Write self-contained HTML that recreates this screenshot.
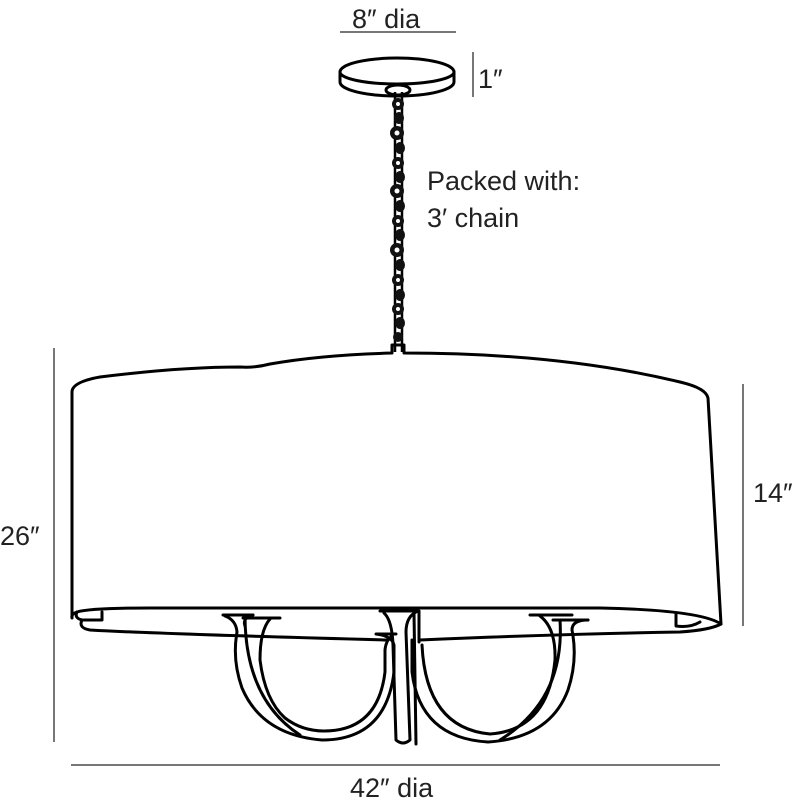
<!DOCTYPE html>
<html><head><meta charset="utf-8"><style>
html,body{margin:0;padding:0;background:#fff;}
svg{display:block;}
text{font-family:"Liberation Sans",sans-serif;fill:#222;font-size:27px;}
</style></head><body>
<svg width="799" height="806" viewBox="0 0 799 806" xmlns="http://www.w3.org/2000/svg">
<g stroke="#777" stroke-width="2" fill="none">
<line x1="340" y1="32" x2="456" y2="32"/>
<line x1="473" y1="52" x2="473" y2="97"/>
<line x1="54" y1="348" x2="54" y2="742"/>
<line x1="743" y1="384" x2="743" y2="626"/>
<line x1="71" y1="765" x2="720" y2="765"/>
</g>
<text x="352" y="28">8″ dia</text>
<text x="478" y="88">1″</text>
<text x="427" y="190">Packed with:</text>
<text x="427" y="227">3′ chain</text>
<text x="753" y="502">14″</text>
<text x="0" y="545">26″</text>
<text x="350" y="797">42″ dia</text>

<g stroke="#000" stroke-width="3" fill="none" stroke-linejoin="round" stroke-linecap="round">
<path d="M340 72 A57 14 0 0 1 454 72 L454 82 A57 14 0 0 1 340 82 Z"/>
<path d="M340 72 A57 12 0 0 0 454 72"/>
<ellipse cx="398" cy="90" rx="12" ry="5"/>
<path d="M72 618 L72 392 Q72 382 100 377 Q180 367 240 367 Q255 368 270 364 Q320 355 392 353 L392 345 L404 345 L404 353 Q560 353 680 382 Q706 388 708 398 L721 624 Q700 610 600 608 L150 608 Q90 608 77 612 Q71 614 72 618"/>
<path d="M77 612 Q74 618 82 620 L102 620 L102 612"/>
<path d="M82 620 Q78 628 90 630 Q160 634 388 640"/>
<path d="M420 640 Q560 634 680 632 Q710 630 721 624"/>
<path d="M676 614 L676 626 Q690 628 700 622"/>
<path d="M223 615 L253 615"/>
<path d="M243 618 L280 618"/>
<path d="M225 616 Q236 620 237 632 Q232 660 242 688 Q262 735 322 740 Q386 740 394 672 L394 645 Q392 636 376 634 L396 634"/>
<path d="M245 618 Q246 700 300 735"/>
<path d="M253 615 Q242 618 245 626"/>
<path d="M270 619 Q260 630 260 660 Q265 700 285 718 Q302 731 324 731 Q378 731 385 672 L385 650 Q386 640 392 636"/>
<path d="M530 615 L572 615"/>
<path d="M553 620 L588 620"/>
<path d="M412 640 L412 672 Q420 738 488 742 Q550 738 568 690 Q578 660 572 630 Q572 620 588 620"/>
<path d="M422 645 Q426 728 490 734 Q548 730 555 660 Q556 628 540 616"/>
<path d="M560 620 Q565 700 500 740"/>
<path d="M380 611 L418 611 Q406 616 406 632 L410 740 Q403 746 396 740 L393 645 Q392 620 384 613"/>
<path d="M414 613 L416 744"/>
<path d="M419 611 L419 642"/>
</g>
<g stroke="#000" stroke-width="2.5" fill="none">
<line x1="395" y1="92" x2="395" y2="352"/>
<line x1="402" y1="92" x2="402" y2="352"/>
</g>
<g fill="#111">
<ellipse cx="398" cy="104" rx="6" ry="6"/><ellipse cx="399" cy="118" rx="5" ry="6"/>
<ellipse cx="397" cy="133" rx="7" ry="7"/><ellipse cx="400" cy="148" rx="5" ry="6"/>
<ellipse cx="398" cy="163" rx="6" ry="6"/><ellipse cx="400" cy="177" rx="5" ry="6"/>
<ellipse cx="397" cy="191" rx="7" ry="7"/><ellipse cx="400" cy="206" rx="5" ry="6"/>
<ellipse cx="398" cy="221" rx="6" ry="6"/><ellipse cx="400" cy="235" rx="5" ry="6"/>
<ellipse cx="397" cy="250" rx="7" ry="7"/><ellipse cx="400" cy="265" rx="5" ry="6"/>
<ellipse cx="398" cy="280" rx="6" ry="6"/><ellipse cx="400" cy="295" rx="5" ry="6"/>
<ellipse cx="398" cy="309" rx="6" ry="6"/><ellipse cx="400" cy="323" rx="5" ry="6"/>
<ellipse cx="398" cy="337" rx="5" ry="5"/>
</g>
<g fill="#fff">
<circle cx="398" cy="104" r="2"/><circle cx="397" cy="133" r="2.5"/>
<circle cx="398" cy="163" r="2"/><circle cx="397" cy="191" r="2.5"/>
<circle cx="398" cy="221" r="2"/><circle cx="397" cy="250" r="2.5"/>
<circle cx="398" cy="280" r="2"/><circle cx="398" cy="309" r="2"/>
</g>
</svg>
</body></html>
